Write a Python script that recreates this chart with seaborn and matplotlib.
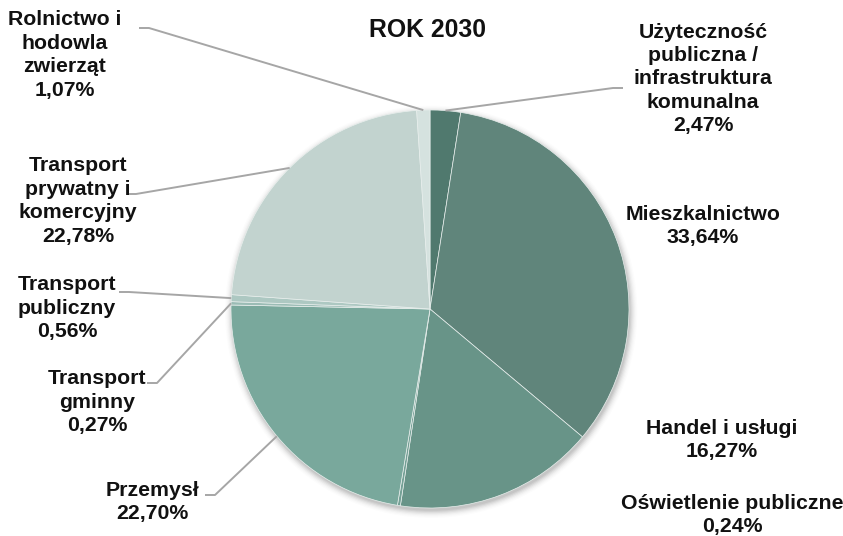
import numpy as np
import matplotlib
matplotlib.use("Agg")
import matplotlib.pyplot as plt
import seaborn as sns
from matplotlib.patches import Circle

# Energy consumption structure by sector, year 2030 (percent)
categories = [
    "Użyteczność\npubliczna /\ninfrastruktura\nkomunalna",
    "Mieszkalnictwo",
    "Handel i usługi",
    "Oświetlenie publiczne",
    "Przemysł",
    "Transport\ngminny",
    "Transport\npubliczny",
    "Transport\nprywatny i\nkomercyjny",
    "Rolnictwo i\nhodowla\nzwierząt",
]
shares = [2.47, 33.64, 16.27, 0.24, 22.70, 0.27, 0.56, 22.78, 1.07]
colors = ["#50796e", "#60857b", "#689488", "#74a095", "#79a89c",
          "#9bbcb5", "#adc8c2", "#c2d3cf", "#d5e2df"]
title = "ROK 2030"

# label layout in pixels: (text centre x, text centre y, leader start or None, elbow dx)
W, H = 843, 536
CX, CY, R = 430, 309, 199
label_layout = [
    (703, 79, (623, 88), -10),
    (703, 226, None, 0),
    (722, 440, None, 0),
    (732, 515, None, 0),
    (152, 502, (205, 495), 10),
    (97, 402, (147, 383), 10),
    (67, 308, (119, 292), 10),
    (78, 201, (127, 194), 9),
    (65, 55, (139, 28), 10),
]


def px(x, y):
    return (x - CX) / R, (CY - y) / R


sns.set_theme(style="white")
plt.rcParams["font.family"] = ["Liberation Sans", "DejaVu Sans"]

fig = plt.figure(figsize=(W / 100, H / 100), dpi=100)
ax = fig.add_axes([0, 0, 1, 1])

# soft drop shadow under the pie
for k, a in zip(range(7), [0.06, 0.05, 0.045, 0.035, 0.025, 0.015, 0.01]):
    ax.add_patch(Circle((0.006, -0.014), 1.0 + 0.006 * k, facecolor="black",
                        edgecolor="none", alpha=a, zorder=0))

wedges, _ = ax.pie(shares, colors=colors, startangle=90, counterclock=False,
                   radius=1.0,
                   wedgeprops=dict(edgecolor="#e8efed", linewidth=0.5, zorder=2))

ax.set_xlim(-CX / R, (W - CX) / R)
ax.set_ylim((CY - H) / R, CY / R)
ax.set_aspect("equal")
ax.axis("off")

cum = 0.0
for name, val, (tx, ty, start, dx) in zip(categories, shares, label_layout):
    mid = cum + val / 2
    cum += val
    label = f"{name}\n{val:.2f}".replace(".", ",") + "%"
    x, y = px(tx, ty)
    ax.text(x, y, label, ha="center", va="center", fontsize=15.3,
            fontweight="bold", color="#111111", linespacing=1.3, zorder=5)
    if start is not None:
        theta = np.deg2rad(90 - 360 * mid / 100)
        ax_, ay_ = np.cos(theta), np.sin(theta)
        sx, sy = px(*start)
        ex, ey = px(start[0] + dx, start[1])
        ax.plot([sx, ex, ax_], [sy, ey, ay_], color="#a6a6a6", lw=1.4,
                solid_capstyle="butt", zorder=4)

tx, ty = px(428, 30)
ax.text(tx, ty, title, ha="center", va="center", fontsize=17.8,
        fontweight="bold", color="#111111")

fig.savefig("out.png", dpi=100, facecolor="white")
